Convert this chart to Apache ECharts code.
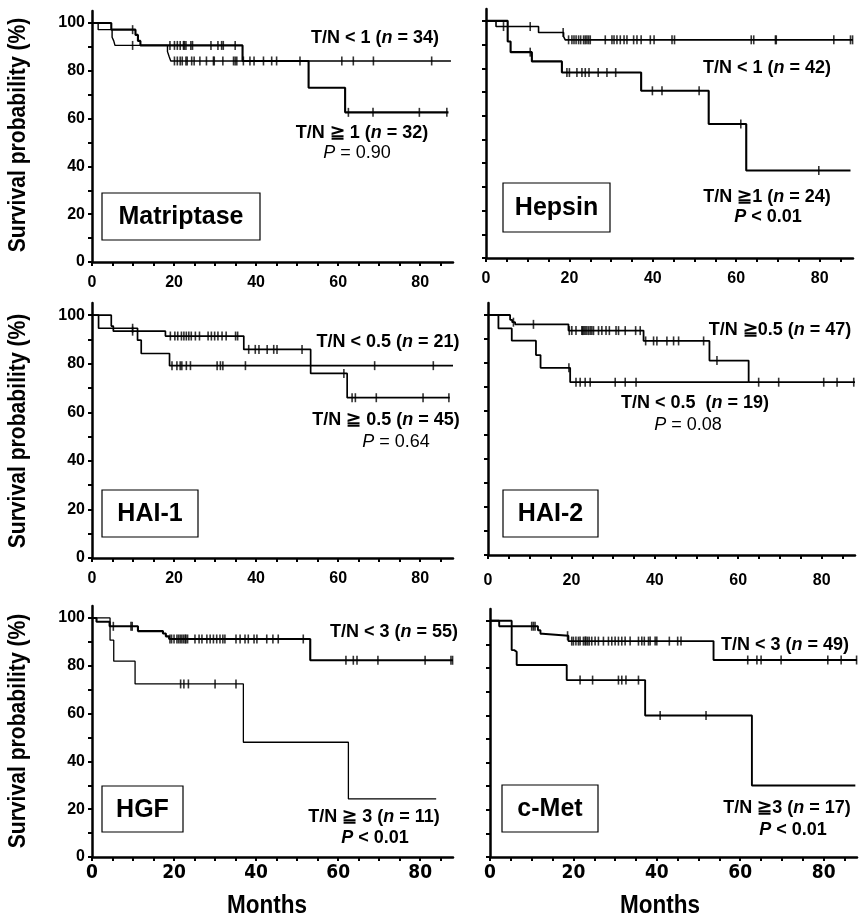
<!DOCTYPE html>
<html>
<head>
<meta charset="utf-8">
<script src="https://cdn.jsdelivr.net/npm/echarts@6/dist/echarts.min.js"></script>
<style>html,body{margin:0;padding:0;background:#fff}#c{width:865px;height:922px}</style>
</head>
<body>
<div id="c"></div>
<script>
// ---------------- DATA ----------------
const xLabelValues = [0, 20, 40, 60, 80];
const xTickValues = [0,5,10,15,20,25,30,35,40,45,50,55,60,65,70,75,80,85];
const yLabelValues = [0, 20, 40, 60, 80, 100];
const yTickValues = [0,10,20,30,40,50,60,70,80,90,100];

// Matriptase
const matLowKM  = [[0,100],[1.5,97.2],[4.9,94],[5.3,92.5],[5.6,90.6],[18.4,88],[18.8,86],[19.2,84.1],[87.5,84.1]];
const matLowCens = [9.9,20.1,20.8,21.5,22.0,22.9,23.2,24.3,24.9,26.3,27.9,29.6,29.8,31.9,34.5,34.9,35.3,36.9,38.5,39.5,41.8,43.8,45.0,50.7,60.9,63.7,68.6,82.8];
const matHighKM = [[0,100],[4.7,97.2],[10.6,95],[11.2,92.5],[11.8,90.6],[36.7,84.1],[52.8,72.9],[61.7,62.6],[86.9,62.6]];
const matHighCens = [9.9,19.0,20.1,20.8,21.5,22.3,22.5,22.9,24.1,24.5,29.0,30.7,31.6,32.0,34.9,62.5,68.5,79.8,86.5];

// Hepsin
const hepLowKM  = [[0,100],[2.4,97.6],[12.6,95.1],[18.6,93.4],[19.0,92],[88,92]];
const hepLowCens = [4.2,10.6,18.5,19.8,20.6,21.1,21.6,22.2,22.7,23.4,23.8,24.2,24.6,25,28.6,30.2,30.7,31.4,32.2,33.1,33.8,35.4,36.2,37.2,39.4,40.3,44.6,45.2,63.6,64.2,69.4,69.6,83.4,87.4,87.9];
const hepHighKM = [[0,100],[5.2,91.3],[5.9,86.8],[11,82.9],[18.2,78.2],[37.2,70.5],[53.4,56.5],[62.4,36.9],[87.4,36.9]];
const hepHighCens = [10.6,19.4,20.0,21.8,23,23.8,24.7,26.9,29,31.1,39.9,42.2,51.1,61.1,79.8];

// HAI-1
const hai1LowKM  = [[0,100],[1.6,94.6],[11.1,89.7],[12.0,84.2],[18.9,79.2],[88,79.2]];
const hai1LowCens = [9.9,19.5,20.7,21.5,21.9,23,24,30.5,31.3,31.9,37.4,68.9,83.2];
const hai1HighKM = [[0,100],[4.7,95.5],[5.2,93.4],[17.9,91.4],[37,85.9],[53.3,76],[62.2,66],[87.2,66]];
const hai1HighCens = [9.9,19.1,20.2,20.9,21.8,22.4,23,23.6,24.2,25.2,26.2,28.3,29.1,29.9,30.7,31.7,32.7,35,35.5,38.2,39.8,40.7,42.7,44.3,45.1,51.2,61.4,63.4,64.2,69.3,80.7,87];

// HAI-2
const hai2HighKM = [[0,100],[5.3,98],[5.8,97],[6.5,96.1],[19.3,93.5],[37.3,89.2],[53.1,81],[62.5,72],[88,72]];
const hai2HighCens = [6.1,10.9,19.5,20.1,21.1,22.5,22.7,23,23.3,23.7,24.1,24.5,24.9,25.3,26.5,27.3,28.3,29.1,30.7,31.3,32.9,35.4,36.5,37.8,39.7,40.5,42.9,44.5,45.7,51.7,54.9,64.9,69.7,80.5,83.7,87.7];
const hai2LowKM  = [[0,100],[2.5,94.4],[5.7,89.3],[11.5,83.3],[12.6,78],[19.7,72],[62.5,72]];
const hai2LowCens = [19.4,21.1,22.1,23.3,24.5,30.5,32.9,35.5];

// HGF
const hgfLowKM  = [[0,100],[1.1,98.4],[4.3,96.5],[11.2,94.5],[17.3,93.5],[18.0,92.3],[18.8,91.2],[53.2,82.3],[88,82.3]];
const hgfLowCens = [5.2,9.5,9.8,19,19.4,20,20.7,21.1,21.5,21.9,22.3,22.7,22.9,23.3,25.1,26.1,26.8,28,28.8,29.6,30.4,31.2,31.9,32.4,35.1,36.1,37.3,38.1,39.5,40.2,42.6,44.1,45.4,51.5,61.9,63.7,64.6,69.7,81.2,87.5,87.9];
const hgfHighKM = [[0,100],[4.4,90.7],[5.3,81.9],[10.5,72.4],[36.9,48],[62.5,24.3],[83.9,24.3]];
const hgfHighCens = [21.6,22.4,23.5,30,35.1];

// c-Met
const metLowKM  = [[0,100],[2.2,97.7],[11.5,96],[12.1,94.5],[12.6,93.7],[18.8,91.4],[53.6,83.4],[88,83.4]];
const metLowCens = [10,10.4,10.8,18.6,19.6,20,20.6,21.2,21.6,22.4,22.8,23,23.4,23.8,24.4,25.2,26,27.2,28.4,29.2,30,30.8,31.6,32.4,33.6,35.6,36.4,37,38,38.4,39.6,40,43,45,45.8,61.8,64,65,69.8,81,84.2,87.9];
const metHighKM = [[0,100],[5.2,87.6],[5.8,86.9],[6.4,81.3],[18.4,74.9],[37.2,59.9],[62.8,30.3],[87.6,30.3]];
const metHighCens = [21.6,24.6,30.8,31.6,32.6,35.6,40.8,51.8];

// ---------------- LAYOUT / STYLE ----------------
const FW = "'Liberation Sans', Arial, Helvetica, sans-serif";
const FN = "'DejaVu Sans Condensed', 'Liberation Sans', sans-serif";

const panels = [
  {grid:{left:92, top:11, width:361, height:251}, curves:[[matLowKM,matLowCens,1.4],[matHighKM,matHighCens,2.1]], bottom:false, left:true},
  {grid:{left:486, top:9, width:367, height:249}, curves:[[hepLowKM,hepLowCens,1.6],[hepHighKM,hepHighCens,2.1]], bottom:false, left:false},
  {grid:{left:92, top:303, width:361, height:255}, curves:[[hai1LowKM,hai1LowCens,1.7],[hai1HighKM,hai1HighCens,1.7]], bottom:false, left:true},
  {grid:{left:488, top:303, width:367, height:252}, curves:[[hai2HighKM,hai2HighCens,1.8],[hai2LowKM,hai2LowCens,1.8]], bottom:false, left:false},
  {grid:{left:92, top:606, width:361, height:251}, curves:[[hgfLowKM,hgfLowCens,2.1],[hgfHighKM,hgfHighCens,1.3]], bottom:true, left:true},
  {grid:{left:490, top:609, width:367, height:248}, curves:[[metLowKM,metLowCens,1.9],[metHighKM,metHighCens,1.9]], bottom:true, left:false}
];

function stepAt(km, t) {
  let v = km[0][1];
  for (const p of km) { if (p[0] <= t) v = p[1]; }
  return v;
}

const grids = [], xAxes = [], yAxes = [], series = [];
panels.forEach((p, i) => {
  grids.push(Object.assign({containLabel:false}, p.grid));
  xAxes.push({
    type:'value', gridIndex:i, min:0, max:88,
    axisLine:{show:true, onZero:false, lineStyle:{color:'#000', width:2.5}},
    axisTick:{show:true, customValues:xTickValues, length:4, inside:false, lineStyle:{color:'#000', width:2}},
    axisLabel:{show:true, customValues:xLabelValues, color:'#000',
      fontFamily: p.bottom ? FN : FW, fontWeight:'bold', fontSize: p.bottom ? 19 : 16,
      margin: p.bottom ? 7 : (i===3 ? 18 : 13)},
    splitLine:{show:false}
  });
  yAxes.push({
    type:'value', gridIndex:i, min:0, max:105,
    axisLine:{show:true, onZero:false, lineStyle:{color:'#000', width:2.5}},
    axisTick:{show:true, customValues:yTickValues, length:4, lineStyle:{color:'#000', width:2}},
    axisLabel:{show:p.left, customValues:yLabelValues, color:'#000', fontFamily:FW, fontWeight:'bold', fontSize:16, margin:7},
    splitLine:{show:false}
  });
  p.curves.forEach(c => {
    const km = c[0], cens = c[1], w = c[2];
    series.push({
      type:'line', xAxisIndex:i, yAxisIndex:i, step:'end', data:km,
      showSymbol:false, symbol:'none', lineStyle:{color:'#000', width:w}, silent:true, z:3
    });
    series.push({
      type:'scatter', xAxisIndex:i, yAxisIndex:i,
      data: cens.map(t => [t, stepAt(km, t)]),
      symbol:'rect', symbolSize:[1.6, 9], itemStyle:{color:'#000'}, silent:true, z:4
    });
  });
});

const rich = {
  b:{fontFamily:FW, fontWeight:'bold', fontSize:18, color:'#000'},
  bi:{fontFamily:FW, fontWeight:'bold', fontStyle:'italic', fontSize:18, color:'#000'},
  r:{fontFamily:FW, fontWeight:'normal', fontSize:18, color:'#000'},
  i:{fontFamily:FW, fontWeight:'normal', fontStyle:'italic', fontSize:18, color:'#000'}
};
function ann(x, y, text) {
  return {type:'text', x:x, y:y, z:10, style:{text:text, rich:rich, align:'center', verticalAlign:'middle', fill:'#000', fontFamily:FW, fontSize:18}};
}
function box(x, y, w, h, label) {
  return {type:'group', z:10, children:[
    {type:'rect', shape:{x:x, y:y, width:w, height:h}, style:{fill:'#fff', stroke:'#000', lineWidth:1.2}},
    {type:'text', x:x + w/2, y:y + h/2 + 1, style:{text:label, fontFamily:FW, fontWeight:'bold', fontSize:25, fill:'#000', align:'center', verticalAlign:'middle'}}
  ]};
}
function ytitle(y) {
  return {type:'text', x:18, y:y, rotation:Math.PI/2, scaleX:0.88, scaleY:1, z:10, style:{text:'Survival probability (%)', fontFamily:FW, fontWeight:'bold', fontSize:24, fill:'#000', align:'center', verticalAlign:'middle'}};
}
function xtitle(x) {
  return {type:'text', x:x, y:906, scaleX:0.9, scaleY:1, z:10, style:{text:'Months', fontFamily:FW, fontWeight:'bold', fontSize:25, fill:'#000', align:'center', verticalAlign:'middle'}};
}

const graphics = [
  ann(375, 38, '{b|T/N < 1 (}{bi|n}{b| = 34)}'),
  ann(362, 133, '{b|T/N \u2267 1 (}{bi|n}{b| = 32)}'),
  ann(357, 153, '{i|P}{r| = 0.90}'),
  box(102, 193, 158, 47, 'Matriptase'),

  ann(767, 68, '{b|T/N < 1 (}{bi|n}{b| = 42)}'),
  ann(767, 197, '{b|T/N \u22671 (}{bi|n}{b| = 24)}'),
  ann(768, 217, '{bi|P}{b| < 0.01}'),
  box(503, 183, 107, 49, 'Hepsin'),

  ann(388, 342, '{b|T/N < 0.5 (}{bi|n}{b| = 21)}'),
  ann(386, 420, '{b|T/N \u2267 0.5 (}{bi|n}{b| = 45)}'),
  ann(396, 442, '{i|P}{r| = 0.64}'),
  box(102, 490, 96, 47, 'HAI-1'),

  ann(780, 330, '{b|T/N \u22670.5 (}{bi|n}{b| = 47)}'),
  ann(695, 403, '{b|T/N < 0.5  (}{bi|n}{b| = 19)}'),
  ann(688, 425, '{i|P}{r| = 0.08}'),
  box(503, 490, 95, 47, 'HAI-2'),

  ann(394, 632, '{b|T/N < 3 (}{bi|n}{b| = 55)}'),
  ann(374, 817, '{b|T/N \u2267 3 (}{bi|n}{b| = 11)}'),
  ann(375, 838, '{bi|P}{b| < 0.01}'),
  box(102, 786, 81, 46, 'HGF'),

  ann(785, 645, '{b|T/N < 3 (}{bi|n}{b| = 49)}'),
  ann(787, 808, '{b|T/N \u22673 (}{bi|n}{b| = 17)}'),
  ann(793, 830, '{bi|P}{b| < 0.01}'),
  box(502, 785, 96, 47, 'c-Met'),

  ytitle(135), ytitle(431), ytitle(731),
  xtitle(267), xtitle(660)
];

const chart = echarts.init(document.getElementById('c'), null, {renderer:'canvas'});
chart.setOption({
  animation:false,
  backgroundColor:'#fff',
  grid:grids, xAxis:xAxes, yAxis:yAxes, series:series,
  graphic:graphics
});
</script>
</body>
</html>
